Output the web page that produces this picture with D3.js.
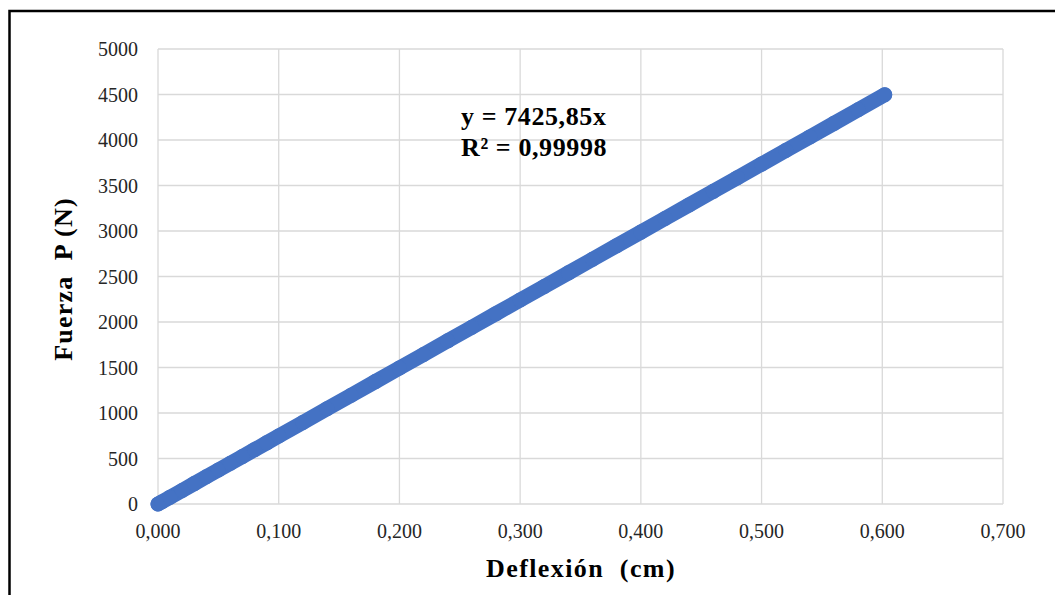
<!DOCTYPE html>
<html><head><meta charset="utf-8">
<script src="https://cdn.jsdelivr.net/npm/d3@7"></script>
<style>body{margin:0;background:#fff}svg{display:block}</style>
</head><body>
<script>
const deflexion = [0.000,0.003,0.010,0.020,0.030,0.040,0.050,0.060,0.070,0.080,0.090,0.100,0.120,0.140,0.160,0.180,0.200,0.220,0.240,0.260,0.280,0.300,0.320,0.340,0.360,0.380,0.400,0.420,0.440,0.460,0.480,0.500,0.520,0.540,0.560,0.580,0.602];
const fuerza    = [0,22,75,149,224,299,373,448,523,597,672,747,896,1046,1195,1345,1494,1643,1793,1942,2092,2241,2390,2540,2689,2839,2988,3137,3287,3436,3586,3735,3884,4034,4183,4333,4497];
const xTicks = [0,0.1,0.2,0.3,0.4,0.5,0.6,0.7];
const yTicks = [0,500,1000,1500,2000,2500,3000,3500,4000,4500,5000];
const equation = ["y = 7425,85x","R² = 0,99998"];
const xTitle = "Deflexión  (cm)";
const yTitle = "Fuerza  P (N)";

const W=1055,H=595;
const m={l:158,r:1003,t:49,b:504};
const svg=d3.select("body").append("svg").attr("width",W).attr("height",H);
svg.append("rect").attr("x",9.5).attr("y",11).attr("width",1060).attr("height",600)
  .attr("fill","#fff").attr("stroke","#000").attr("stroke-width",2.5);
const x=d3.scaleLinear().domain([0,0.7]).range([m.l,m.r]);
const y=d3.scaleLinear().domain([0,5000]).range([m.b,m.t]);
const font="'Liberation Serif', 'Times New Roman', serif";
// grid
svg.append("g").selectAll("line").data(yTicks).join("line")
  .attr("x1",m.l).attr("x2",m.r).attr("y1",d=>y(d)).attr("y2",d=>y(d))
  .attr("stroke","#d9d9d9").attr("stroke-width",1.3);
svg.append("g").selectAll("line").data(xTicks).join("line")
  .attr("y1",m.t).attr("y2",m.b).attr("x1",d=>x(d)).attr("x2",d=>x(d))
  .attr("stroke","#d9d9d9").attr("stroke-width",1.3);
// tick labels
svg.append("g").selectAll("text").data(yTicks).join("text")
  .attr("x",m.l-20).attr("y",d=>y(d)).attr("dy","0.36em").attr("text-anchor","end")
  .attr("font-family",font).attr("font-size",20).attr("fill","#262626").text(d=>d);
const fmt=d=>d3.format(".3f")(d).replace(".",",");
svg.append("g").selectAll("text").data(xTicks).join("text")
  .attr("x",d=>x(d)).attr("y",m.b+34).attr("text-anchor","middle")
  .attr("font-family",font).attr("font-size",20).attr("fill","#262626").text(fmt);
// titles
svg.append("text").attr("x",581).attr("y",577).attr("text-anchor","middle")
  .attr("font-family",font).attr("font-size",26).attr("font-weight","bold").attr("fill","#000")
  .attr("letter-spacing",1.4).style("white-space","pre").text(xTitle);
svg.append("text").attr("transform",`translate(72,279) rotate(-90)`).attr("text-anchor","middle")
  .attr("font-family",font).attr("font-size",26).attr("font-weight","bold").attr("fill","#000")
  .attr("letter-spacing",1.2).style("white-space","pre").text(yTitle);
// data
const line=d3.line().x((d,i)=>x(deflexion[i])).y((d,i)=>y(fuerza[i]));
svg.append("path").datum(fuerza).attr("d",line).attr("fill","none")
  .attr("stroke","#4472c4").attr("stroke-width",15).attr("stroke-linecap","round").attr("stroke-linejoin","round");
svg.append("g").selectAll("circle").data(fuerza).join("circle")
  .attr("cx",(d,i)=>x(deflexion[i])).attr("cy",d=>y(d)).attr("r",7.5).attr("fill","#4472c4");
// equation
svg.append("g").selectAll("text").data(equation).join("text")
  .attr("x",461).attr("y",(d,i)=>125+i*31)
  .attr("font-family",font).attr("font-size",26).attr("font-weight","bold").attr("fill","#000")
  .attr("letter-spacing",0.6).text(d=>d);
</script>
</body></html>
